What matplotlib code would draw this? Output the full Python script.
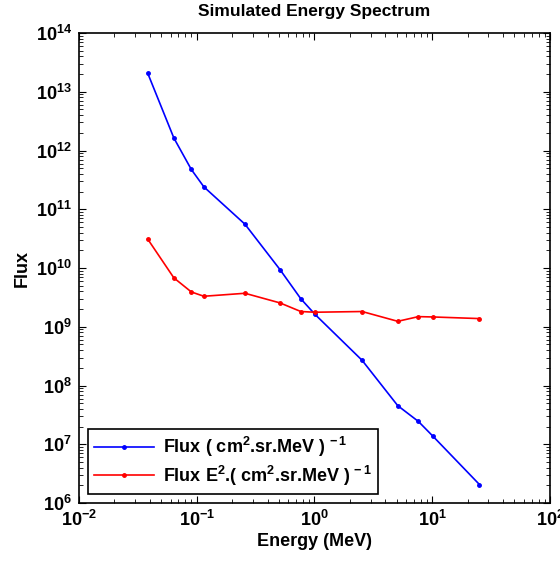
import matplotlib
matplotlib.use("Agg")
import matplotlib.pyplot as plt

plt.rcParams['font.family'] = ['Liberation Sans', 'DejaVu Sans']
plt.rcParams['mathtext.fontset'] = 'custom'
plt.rcParams['mathtext.rm'] = 'Liberation Sans:bold'
plt.rcParams['mathtext.it'] = 'Liberation Sans:bold'
plt.rcParams['mathtext.bf'] = 'Liberation Sans:bold'
plt.rcParams['mathtext.default'] = 'rm'

energy = [0.0384, 0.064, 0.09, 0.115, 0.257, 0.51, 0.766, 1.01, 2.54, 5.1, 7.64, 10.2, 25.2]
flux = [2.06e13, 1.63e12, 4.76e11, 2.41e11, 5.57e10, 9.4e9, 3.0e9, 1.63e9, 2.69e8, 4.55e7, 2.45e7, 1.36e7, 2.07e6]
flux_e2 = [3.1e10, 6.8e9, 3.92e9, 3.31e9, 3.72e9, 2.55e9, 1.82e9, 1.77e9, 1.82e9, 1.24e9, 1.49e9, 1.47e9, 1.38e9]

fig = plt.figure(figsize=(5.6, 5.64), dpi=100)
ax = fig.add_axes([0.141, 0.108, 0.841, 0.8335])

ax.loglog(energy, flux, '-', color='#0000ff', marker='.', markersize=5, linewidth=1.2,
          label=r'Flux ( cm$^{2}$.sr.MeV )$^{\,-1}$')
ax.loglog(energy, flux_e2, '-', color='#ff0000', marker='.', markersize=5, linewidth=1.2,
          label=r'Flux E$^{2}$.( cm$^{2}$.sr.MeV )$^{\,-1}$')

ax.set_xlim(1e-2, 1e2)
ax.set_ylim(1e6, 1e14)
ax.set_xlabel('Energy (MeV)', fontsize=13, fontweight='bold', labelpad=2)
ax.set_ylabel('Flux', fontsize=13, fontweight='bold', labelpad=4)
ax.set_title('Simulated Energy Spectrum', fontsize=12.5, fontweight='bold', pad=12)

ax.tick_params(which='both', direction='in', top=True, right=True)
ax.tick_params(which='major', length=5, labelsize=13, pad=5)
ax.tick_params(which='minor', length=3)
for lab in ax.get_xticklabels() + ax.get_yticklabels():
    lab.set_fontweight('bold')
for s in ax.spines.values():
    s.set_linewidth(1.2)

leg = ax.legend(loc='lower left', fontsize=13, fancybox=False, edgecolor='black',
                framealpha=1, borderaxespad=0.5, handlelength=3.3, labelspacing=0.25,
                borderpad=0.35, handletextpad=0.5)
leg.get_frame().set_linewidth(1.2)
for t in leg.get_texts():
    t.set_fontweight('bold')

fig.savefig('out.png', dpi=100)
